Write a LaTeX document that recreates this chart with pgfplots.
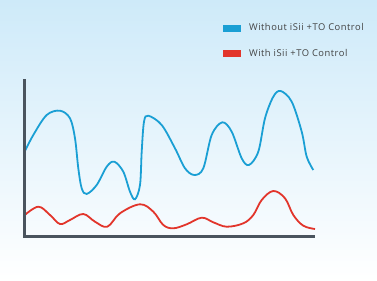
\documentclass[border=0pt]{standalone}
\usepackage{pgfplots}
\pgfplotsset{compat=1.18}
\usepackage{fontspec}
\setmainfont{Open Sans}
\newfontfamily\legfont[LetterSpace=5.5]{Open Sans}
\definecolor{bgblue}{RGB}{206,234,249}
\definecolor{lineblue}{RGB}{26,159,212}
\definecolor{linered}{RGB}{226,53,43}
\definecolor{axgray}{RGB}{74,84,94}
\definecolor{txtgray}{RGB}{66,66,66}
\begin{document}
\begin{tikzpicture}
\begin{axis}[
  scale only axis, width=377bp, height=281bp,
  xmin=0, xmax=377, ymin=0, ymax=281,
  axis line style={draw=none}, xtick=\empty, ytick=\empty,
  axis background/.style={shade, top color=bgblue, middle color=white, bottom color=white},
  clip=false,
  legend cell align=left,
  legend style={draw=none, fill=none, at={(axis cs:219.5,257)}, anchor=north west,
    inner sep=0pt, row sep=17.5bp, column sep=0pt,
    nodes={inner sep=0pt, text height=6.5bp, text depth=1.5bp, anchor=west, text=txtgray,
      font=\legfont\fontsize{9.4}{11}\selectfont}},
  legend image code/.code={\draw[line width=7bp, line cap=butt] (0bp,0bp) -- (18bp,0bp); \path (25bp,0bp);},
]
\addplot[lineblue, line width=1.8bp, smooth, tension=0.55] coordinates {
(24,128) (33.3,146) (46.7,166) (60,170.3) (70,162.7) (75,142.7) (78.3,112.7) (81.7,92.7) (86.7,87)
(96.7,96) (106.7,114.3) (114.3,119.3) (123.3,109.3) (130,89.3) (135,81.7) (140,96) (141.7,129.3) (144,159.3)
(148.3,165.3) (161.7,156) (175,132.7) (185,112.7) (194.3,106) (203.3,112.7) (211.7,146)
(222.3,158.7) (231.7,149.3) (241.7,122.7) (249,116) (258.3,129.3) (265,162.7) (273.3,184.3) (280.7,190)
(291.7,179.3) (301.7,149.3) (306.7,124.3) (313.3,111)};
\addlegendentry{Without iSii +TO Control}
\addplot[linered, line width=1.8bp, smooth, tension=0.6] coordinates {
(24,65.3) (38.3,74.3) (50,66) (60,57) (70,61) (83.3,67) (95,59.3)
(107.3,54.3) (120,67.7) (140,76.7) (153.3,69.3) (163.3,56) (173.3,52.7) (186.7,56.7)
(201.7,63.3) (213.3,58.7) (226.7,54.3) (243.3,57.7) (253.3,66) (261.7,81) (273.3,90)
(285,82.7) (293.3,66) (303.3,55.3) (315,52)};
\addlegendentry{With iSii +TO Control}
\addplot[axgray, line width=3bp, line join=miter, forget plot] coordinates {(24,201.5) (24,44.5) (315,44.5)};
\end{axis}
\end{tikzpicture}
\end{document}
